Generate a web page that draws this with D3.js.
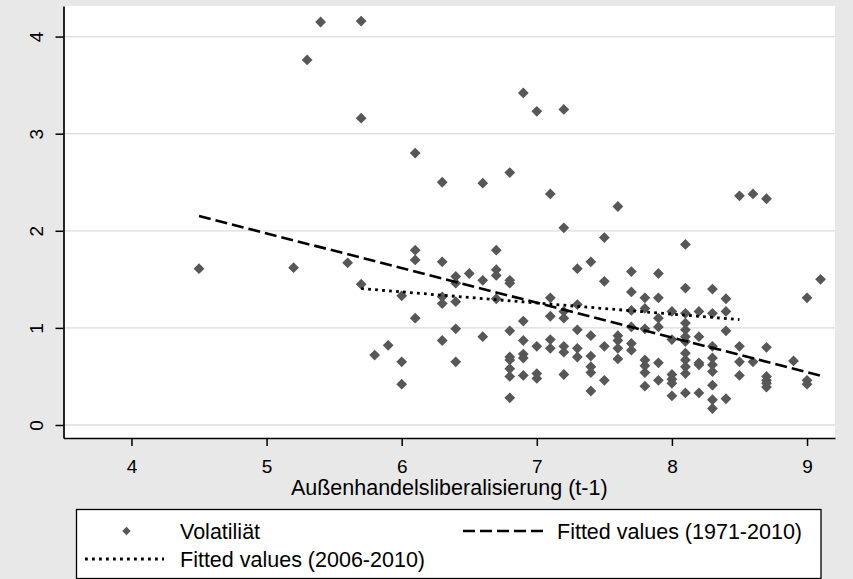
<!DOCTYPE html>
<html>
<head>
<meta charset="utf-8">
<script src="https://cdn.jsdelivr.net/npm/d3@7/dist/d3.min.js"></script>
<style>
  html, body { margin: 0; padding: 0; background: #e8e8e8; }
  svg { display: block; font-family: "Liberation Sans", Arial, sans-serif; }
</style>
</head>
<body>
<svg id="chart" width="853" height="579"></svg>
<script>
// ---- data ----
const xLib = [
  4.5, 5.2, 5.3, 5.4, 5.6,
  5.7, 5.7, 5.7, 5.8, 5.9,
  6.0, 6.0, 6.0,
  6.1, 6.1, 6.1, 6.1,
  6.3, 6.3, 6.3, 6.3, 6.3,
  6.4, 6.4, 6.4, 6.4, 6.4,
  6.5,
  6.6, 6.6, 6.6,
  6.7, 6.7, 6.7, 6.7,
  6.8, 6.8, 6.8, 6.8, 6.8, 6.8, 6.8, 6.8, 6.8,
  6.9, 6.9, 6.9, 6.9, 6.9, 6.9,
  7.0, 7.0, 7.0, 7.0,
  7.1, 7.1, 7.1, 7.1, 7.1,
  7.2, 7.2, 7.2, 7.2, 7.2, 7.2, 7.2,
  7.3, 7.3, 7.3, 7.3, 7.3,
  7.4, 7.4, 7.4, 7.4, 7.4, 7.4,
  7.5, 7.5, 7.5, 7.5,
  7.6, 7.6, 7.6, 7.6, 7.6,
  7.7, 7.7, 7.7, 7.7, 7.7, 7.7,
  7.8, 7.8, 7.8, 7.8, 7.8, 7.8, 7.8,
  7.9, 7.9, 7.9, 7.9, 7.9, 7.9,
  8.0, 8.0, 8.0, 8.0, 8.0, 8.0,
  8.1, 8.1, 8.1, 8.1, 8.1, 8.1, 8.1, 8.1, 8.1, 8.1, 8.1, 8.1,
  8.2, 8.2, 8.2, 8.2, 8.2,
  8.3, 8.3, 8.3, 8.3, 8.3, 8.3, 8.3, 8.3, 8.3,
  8.4, 8.4, 8.4, 8.4,
  8.5, 8.5, 8.5, 8.5,
  8.6, 8.6,
  8.7, 8.7, 8.7, 8.7, 8.7, 8.7,
  8.9,
  9.0, 9.0, 9.0,
  9.1
];
const volatility = [
  1.61, 1.62, 3.76, 4.15, 1.67,
  4.16, 3.16, 1.45, 0.72, 0.82,
  1.33, 0.65, 0.42,
  2.80, 1.80, 1.70, 1.10,
  2.50, 1.68, 1.32, 1.25, 0.87,
  1.53, 1.46, 1.27, 0.99, 0.65,
  1.56,
  2.49, 1.49, 0.91,
  1.80, 1.60, 1.54, 1.30,
  2.60, 1.49, 1.46, 0.97, 0.70, 0.67, 0.58, 0.50, 0.28,
  3.42, 1.07, 0.87, 0.73, 0.69, 0.51,
  3.23, 0.81, 0.53, 0.48,
  2.38, 1.31, 1.12, 0.88, 0.79,
  3.25, 2.03, 1.17, 1.10, 0.81, 0.75, 0.52,
  1.61, 1.24, 0.98, 0.79, 0.70,
  1.68, 0.92, 0.71, 0.60, 0.54, 0.35,
  1.93, 1.48, 0.81, 0.46,
  2.25, 0.92, 0.87, 0.79, 0.68,
  1.58, 1.37, 1.18, 1.01, 0.84, 0.77,
  1.31, 1.20, 0.99, 0.67, 0.61, 0.54, 0.40,
  1.56, 1.31, 1.10, 1.01, 0.64, 0.46,
  1.17, 0.88, 0.52, 0.47, 0.43, 0.30,
  1.86, 1.41, 1.15, 1.05, 0.98, 0.91, 0.86, 0.74, 0.67, 0.60, 0.53, 0.33,
  1.17, 0.91, 0.64, 0.62, 0.33,
  1.40, 1.15, 0.81, 0.69, 0.62, 0.55, 0.41, 0.26, 0.17,
  1.30, 1.17, 0.97, 0.27,
  2.36, 0.81, 0.65, 0.51,
  2.38, 0.65,
  2.33, 0.80, 0.50, 0.46, 0.43, 0.39,
  0.66,
  1.31, 0.46, 0.42,
  1.50
];
// fitted lines (endpoints)
const fitAllX = [4.5, 9.1];
const fitAllY = [2.152, 0.508];
const fitRecentX = [5.7, 8.5];
const fitRecentY = [1.405, 1.085];

const xTicks = [4, 5, 6, 7, 8, 9];
const yTicks = [0, 1, 2, 3, 4];
const xTitle = "Außenhandelsliberalisierung (t-1)";
const legendLabels = ["Volatiliät", "Fitted values (1971-2010)", "Fitted values (2006-2010)"];

// ---- layout ----
const W = 853, H = 579;
const plot = { left: 63.5, right: 835, top: 6, bottom: 438 };
const markerColor = "#575757";

const svg = d3.select("#chart");
svg.append("rect").attr("x", 0).attr("y", 0).attr("width", W).attr("height", H).attr("fill", "#e8e8e8");
svg.append("rect")
  .attr("x", plot.left).attr("y", plot.top)
  .attr("width", plot.right - plot.left).attr("height", plot.bottom - plot.top)
  .attr("fill", "#ffffff");

const x = d3.scaleLinear().domain([3.497, 9.207]).range([plot.left, plot.right]);
const y = d3.scaleLinear().domain([-0.134, 4.315]).range([plot.bottom, plot.top]);

// gridlines
svg.append("g").selectAll("line").data(yTicks).join("line")
  .attr("x1", plot.left).attr("x2", plot.right)
  .attr("y1", d => y(d)).attr("y2", d => y(d))
  .attr("stroke", "#dcdcdc").attr("stroke-width", 1.3);

// diamond symbol (square rotated 45deg)
const diamond = {
  draw(ctx, size) {
    const r = Math.sqrt(size / 2);
    ctx.moveTo(0, -r); ctx.lineTo(r, 0); ctx.lineTo(0, r); ctx.lineTo(-r, 0); ctx.closePath();
  }
};
const r = 5.4;
const symPath = d3.symbol().type(diamond).size(2 * r * r)();

// scatter
svg.append("g").selectAll("path").data(xLib.map((v, i) => [v, volatility[i]])).join("path")
  .attr("d", symPath)
  .attr("transform", d => `translate(${x(d[0])},${y(d[1])})`)
  .attr("fill", markerColor);

// fitted lines
const line = d3.line().x(d => x(d[0])).y(d => y(d[1]));
svg.append("path")
  .datum(fitAllX.map((v, i) => [v, fitAllY[i]]))
  .attr("d", line).attr("fill", "none").attr("stroke", "#000")
  .attr("stroke-width", 2.6).attr("stroke-dasharray", "12,5");
svg.append("path")
  .datum(fitRecentX.map((v, i) => [v, fitRecentY[i]]))
  .attr("d", line).attr("fill", "none").attr("stroke", "#000")
  .attr("stroke-width", 2.8).attr("stroke-dasharray", "2.8,4.2");

// axes
const xAxis = svg.append("g").attr("transform", `translate(0,${plot.bottom})`)
  .call(d3.axisBottom(x).tickValues(xTicks).tickFormat(d3.format("d")).tickSize(8).tickSizeOuter(0).tickPadding(6));
xAxis.select(".domain").attr("stroke", "#000").attr("stroke-width", 1.7);
xAxis.selectAll(".tick line").attr("stroke", "#000").attr("stroke-width", 1.5);
xAxis.selectAll(".tick text")
  .attr("font-size", 19).attr("font-family", "Liberation Sans, Arial, sans-serif")
  .attr("fill", "#000").attr("dy", null).attr("y", 35).attr("dominant-baseline", "auto");

const yAxis = svg.append("g").attr("transform", `translate(${plot.left},0)`)
  .call(d3.axisLeft(y).tickValues(yTicks).tickFormat(d3.format("d")).tickSize(8).tickSizeOuter(0));
yAxis.select(".domain").attr("stroke", "#000").attr("stroke-width", 1.7);
yAxis.selectAll(".tick line").attr("stroke", "#000").attr("stroke-width", 1.5);
yAxis.selectAll(".tick text")
  .attr("font-size", 19).attr("font-family", "Liberation Sans, Arial, sans-serif")
  .attr("fill", "#000")
  .attr("x", null).attr("dy", null)
  .attr("text-anchor", "middle")
  .attr("dominant-baseline", "central")
  .attr("transform", `translate(${36.5 - plot.left},0) rotate(-90)`);

// x title
svg.append("text")
  .attr("x", (plot.left + plot.right) / 2).attr("y", 495)
  .attr("text-anchor", "middle").attr("font-size", 21.5).attr("fill", "#000")
  .text(xTitle);

// legend
const lg = svg.append("g");
lg.append("rect").attr("x", 76.5).attr("y", 509.5).attr("width", 744.5).attr("height", 69)
  .attr("fill", "#fff").attr("stroke", "#000").attr("stroke-width", 1.3);
const row1 = 531, row2 = 559;
// col 1 row1 marker
lg.append("path").attr("d", d3.symbol().type(diamond).size(2 * 4.2 * 4.2)())
  .attr("transform", `translate(126.5,${row1})`).attr("fill", markerColor);
lg.append("text").attr("x", 180).attr("y", row1 + 7.5).attr("font-size", 21.5).text(legendLabels[0]);
// col 2 row1 dashed
lg.append("line").attr("x1", 463).attr("x2", 544).attr("y1", row1).attr("y2", row1)
  .attr("stroke", "#000").attr("stroke-width", 2.6).attr("stroke-dasharray", "12,5");
lg.append("text").attr("x", 557).attr("y", row1 + 7.5).attr("font-size", 21.5).text(legendLabels[1]);
// col1 row2 dotted
lg.append("line").attr("x1", 85).attr("x2", 164).attr("y1", row2).attr("y2", row2)
  .attr("stroke", "#000").attr("stroke-width", 2.8).attr("stroke-dasharray", "2.8,4.2");
lg.append("text").attr("x", 180).attr("y", row2 + 7.5).attr("font-size", 21.5).text(legendLabels[2]);
</script>
</body>
</html>
